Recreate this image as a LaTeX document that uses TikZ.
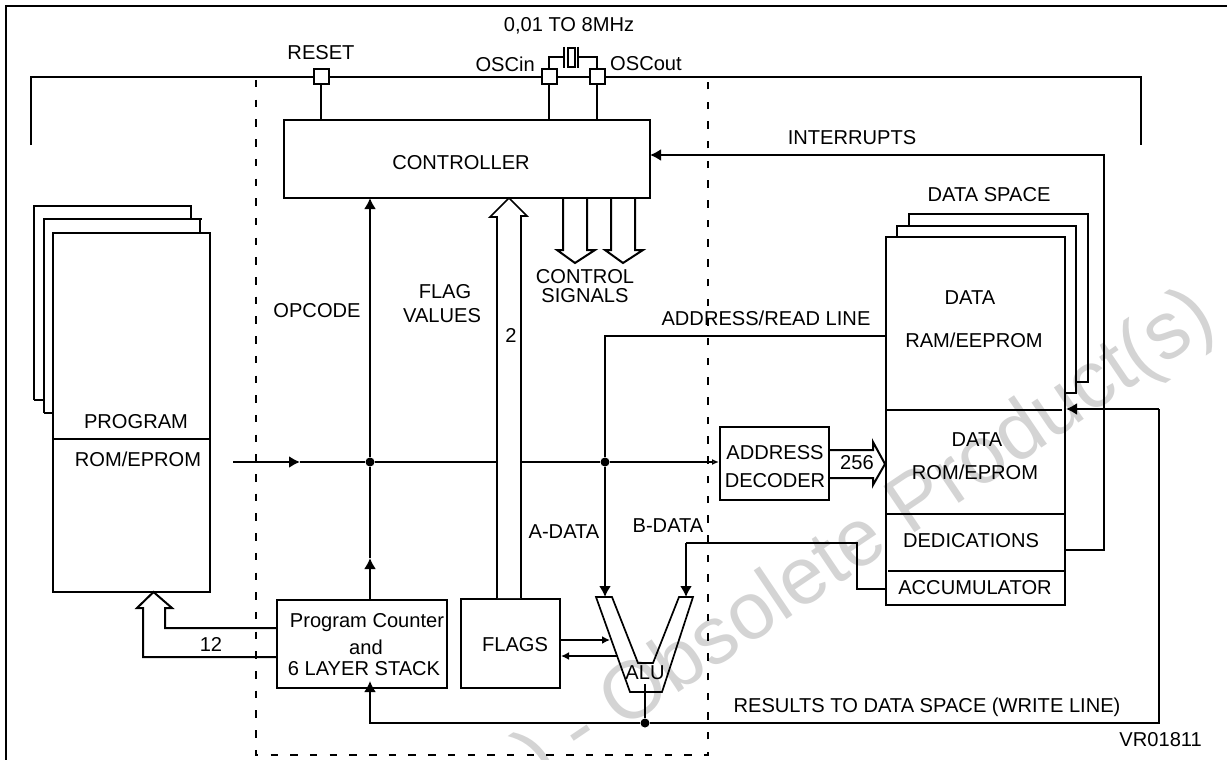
\documentclass[tikz,border=0pt]{standalone}
\usepackage{fontspec}
\setmainfont{Liberation Sans}
\usetikzlibrary{arrows.meta}
\tikzset{
  x=1pt,y=-1pt,
  wire/.style={line width=2pt,line join=miter},
  boxx/.style={draw,wire},
  lbl/.style={inner sep=0pt,font=\fontsize{20.1}{21}\selectfont},
  ah/.style={-{Latex[length=11pt,width=12pt]}},
  sh/.style={-{Latex[length=8pt,width=8pt]}},
  dot/.style={circle,fill=black,inner sep=0pt,minimum size=9pt},
  pin/.style={draw,wire,fill=white,minimum size=15pt,inner sep=0pt},
}
\begin{document}
\begin{tikzpicture}
\useasboundingbox (0,0) rectangle (1227,760);
\begin{scope}
\clip (0,0) rectangle (1227,760);
\node[rotate=34,anchor=base west,text=black!17,font=\fontsize{81}{81}\selectfont,inner sep=0pt] (wm) at (540,786) {) - Obsolete Product(s)};
\end{scope}
% frame
\coordinate (f0) at (6,760); \coordinate (f1) at (6,6); \coordinate (f2) at (1227,6);
\draw[line width=1.2pt] (f0) -- (f1) -- (f2);
% dashed region
\coordinate (d0) at (256,80); \coordinate (d1) at (256,755); \coordinate (d2) at (708,755); \coordinate (d3) at (708,80);
\draw[line width=2pt,dash pattern=on 7.5pt off 12.2pt] (d0) -- (d1) -- (d2) -- (d3);
% top bus
\coordinate (b0) at (31,145); \coordinate (b1) at (31,77); \coordinate (b2) at (1141,77); \coordinate (b3) at (1141,145);
\draw[wire] (b0) -- (b1) -- (b2) -- (b3);
% controller
\node[boxx,minimum width=366pt,minimum height=78pt,inner sep=0pt] (ctrl) at (467,159) {};
\node[lbl] (ctrlt) at (461,163) {CONTROLLER};
% pins
\node[pin] (reset) at (321,77) {};
\node[pin] (oscin) at (549,77) {};
\node[pin] (oscout) at (597,77) {};
\draw[wire] (reset) -- (reset |- ctrl.north);
\draw[wire] (oscin) -- (oscin |- ctrl.north);
\draw[wire] (oscout) -- (oscout |- ctrl.north);
\node[lbl] (resett) at (321,53) {RESET};
\node[lbl,anchor=east] (oscint) at (535,64) {OSCin};
\node[lbl,anchor=west] (oscoutt) at (610,64) {OSCout};
\node[lbl] (freq) at (569,26) {0,01 TO 8MHz};
% crystal
\coordinate (x1) at (564,57); \coordinate (x2) at (578,57);
\draw[wire] (oscin.north) -- (oscin.north |- x1) -- (x1);
\draw[wire] (oscout.north) -- (oscout.north |- x2) -- (x2);
\coordinate (p1a) at (564,47); \coordinate (p1b) at (564,68); \coordinate (p2a) at (578,47); \coordinate (p2b) at (578,68);
\draw[wire] (p1a) -- (p1b); \draw[wire] (p2a) -- (p2b);
\draw[line width=1.2pt] (568,48) rectangle (575,67);
% program memory stack
\draw[wire] (34,400) -- (34,206) -- (191,206) -- (191,219);
\draw[wire] (44,413) -- (44,219) -- (202,219);
\draw[wire] (200,219) -- (200,233);
\draw[wire] (34,400) -- (44,400);
\draw[wire] (44,413) -- (53,413);
\node[boxx,minimum width=157pt,minimum height=359pt,inner sep=0pt] (prog) at (131.5,412.5) {};
\coordinate (pd0) at (53,439); \coordinate (pd1) at (210,439);
\draw[wire] (pd0) -- (pd1);
\node[lbl] (progt) at (136,422) {PROGRAM};
\node[lbl] (romt) at (138,459) {ROM/EPROM};
% data stack
\draw[wire] (909,226) -- (909,214) -- (1088,214) -- (1088,382) -- (1076,382);
\draw[wire] (897,237) -- (897,226) -- (1076,226) -- (1076,393) -- (1065,393);
\node[boxx,minimum width=179pt,minimum height=368pt,inner sep=0pt] (data) at (975.5,421) {};
\coordinate (dd0) at (886,410); \coordinate (dd1) at (1062,410);
\draw[wire] (dd0) -- (dd1);
\coordinate (dd2) at (886,514); \coordinate (dd3) at (1065,514);
\draw[wire] (dd2) -- (dd3);
\coordinate (dd4) at (888,571); \coordinate (dd5) at (1065,571);
\draw[wire] (dd4) -- (dd5);
\node[lbl] (t1) at (989,195) {DATA SPACE};
\node[lbl] (t2) at (970,298) {DATA};
\node[lbl] (t3) at (974,340) {RAM/EEPROM};
\node[lbl] (t4) at (977,440) {DATA};
\node[lbl] (t5) at (975,472) {ROM/EPROM};
\node[lbl] (t6) at (971,541) {DEDICATIONS};
\node[lbl] (t7) at (975,588) {ACCUMULATOR};
% address decoder
\node[boxx,minimum width=109pt,minimum height=73pt,inner sep=0pt] (dec) at (774.5,463.5) {};
\node[lbl] (t8) at (775,453) {ADDRESS};
\node[lbl] (t9) at (775,481) {DECODER};
\draw[wire] (829,450) -- (873,450) -- (873,442) -- (885,464) -- (873,485) -- (873,478) -- (829,478);
\node[lbl] (t10) at (857,463) {256};
% center line
\coordinate (c0) at (233,462); \coordinate (c1) at (300,462);
\node[dot] (n1) at (370,462) {};
\node[dot] (n2) at (605,462) {};
\draw[wire,ah] (c0) -- (c1);
\draw[wire] (c1) -- (n1) -- (n2);
\draw[wire,-{Latex[open,length=7pt,width=6pt]}] (n2) -- (dec.west |- n2);
% PC
\node[boxx,minimum width=170pt,minimum height=88pt,inner sep=0pt] (pc) at (362,644) {};
\node[lbl] (t11) at (367,623) {Program Counter};
\node[lbl] (t12) at (366,647) {and};
\node[lbl] (t13) at (364,669) {6 LAYER STACK};
\draw[wire,ah] (370,600) -- (370,558);
\draw[wire,ah] (n1) -- (370,198);
\draw[wire] (370,558) -- (n1);
\draw[line width=1pt] (369,573) -- (369,575);
\node[lbl] (t14) at (317,311) {OPCODE};
% PC bus to program
\draw[wire] (277,628) -- (165,628) -- (165,608) -- (172,608) -- (153.5,592) -- (137,608) -- (143,608) -- (143,657) -- (277,657);
\node[lbl] (t15) at (211,644) {12};
% FLAGS
\node[boxx,minimum width=99pt,minimum height=89pt,inner sep=0pt] (flags) at (510.5,643.5) {};
\node[lbl] (t16) at (515,645) {FLAGS};
\draw[line width=1.7pt,fill=white] (497,598) -- (497,217) -- (490,217) -- (509,198) -- (527,216) -- (521,216) -- (521,598);
\node[lbl] (t17) at (511,335) {2};
\node[lbl] (t18) at (445,292) {FLAG};
\node[lbl] (t19) at (442,316) {VALUES};
% control signals
\draw[wire] (563,198) -- (563,250) -- (557,250) -- (575,263) -- (595,250) -- (587,250) -- (587,198);
\draw[wire] (611,198) -- (611,250) -- (605,250) -- (623,263) -- (643,250) -- (635,250) -- (635,198);
\node[lbl] (t20) at (585,277) {CONTROL};
\node[lbl] (t21) at (585,296) {SIGNALS};
% ALU
\draw[line width=1.7pt] (596,597) -- (612,597) -- (638,663) -- (653,663) -- (679,597) -- (693,597) -- (662,692) -- (630,692) -- cycle;
\node[lbl] (t22) at (645,673) {ALU};
\node[dot] (n3) at (645,723) {};
\draw[wire] (645,684) -- (n3);
\draw[wire,sh] (flags.east |- 0,640) -- (610,640);
\draw[wire,sh] (617,656) -- (flags.east |- 0,656);
% A data
\coordinate (a0) at (886,336); \coordinate (a1) at (605,336);
\draw[wire] (a0) -- (a1) -- (n2);
\coordinate (a2) at (605,597);
\draw[wire,ah] (n2) -- (a2);
\node[lbl] (t23) at (564,532) {A-DATA};
\node[lbl] (t24) at (668,526) {B-DATA};
\node[lbl] (t25) at (766,318) {ADDRESS/READ LINE};
% B data
\coordinate (e0) at (886,589); \coordinate (e1) at (857,589); \coordinate (e2) at (857,543); \coordinate (e3) at (686,543); \coordinate (e4) at (686,597);
\draw[wire] (e0) -- (e1) -- (e2) -- (e3);
\draw[wire,ah] (e3) -- (e4);
% interrupts
\coordinate (i0) at (1065,550); \coordinate (i1) at (1104,550); \coordinate (i2) at (1104,155); \coordinate (i3) at (650,155);
\draw[wire,ah] (i0) -- (i1) -- (i2) -- (i3);
\node[lbl] (t26) at (852,138) {INTERRUPTS};
% results
\coordinate (r0) at (1066,409); \coordinate (r1) at (1159,409); \coordinate (r2) at (1159,723); \coordinate (r3) at (370,723); \coordinate (r4) at (370,681);
\draw[wire,ah] (r1) -- (r0);
\draw[wire] (r1) -- (r2) -- (n3);
\draw[wire,ah] (n3) -- (r3) -- (r4);
\node[lbl] (t27) at (927,707) {RESULTS TO DATA SPACE (WRITE LINE)};
\node[lbl,anchor=east] (t28) at (1202,740) {VR01811};
\end{tikzpicture}
\end{document}
